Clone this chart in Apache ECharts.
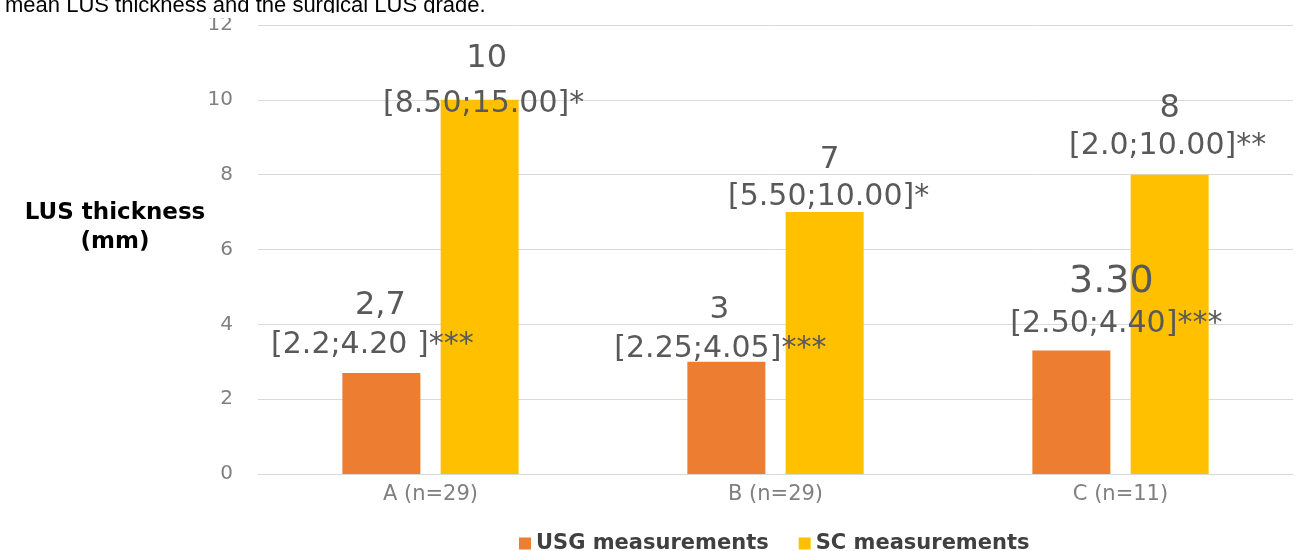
<!DOCTYPE html>
<html>
<head>
<meta charset="utf-8">
<script src="https://cdn.jsdelivr.net/npm/echarts@6/dist/echarts.min.js"></script>
<style>
html,body{margin:0;padding:0;background:#fff;}
#chart{width:1309px;height:551px;}
</style>
</head>
<body>
<div id="chart"></div>
<script>
// ---- data ----
const categories = ['A (n=29)', 'B (n=29)', 'C (n=11)'];
const usgValues = [2.7, 3, 3.3];
const scValues = [10, 7, 8];
const usgValueLabels = ['2,7', '3', '3.30'];
const usgRangeLabels = ['[2.2;4.20 ]***', '[2.25;4.05]***', '[2.50;4.40]***'];
const scValueLabels = ['10', '7', '8'];
const scRangeLabels = ['[8.50;15.00]*', '[5.50;10.00]*', '[2.0;10.00]**'];
const seriesNames = ['USG measurements', 'SC measurements'];

// ---- label placement (styling only) ----
const usgLabelLayout = [
  {dx: -9, dy: -10, g: 42, s: 8, vs: 32},
  {dx: -6, dy: 5, g: 42, s: -1, vs: 31},
  {dx: 45, dy: -8, g: 48, s: -5, vs: 38}
];
const scLabelLayout = [
  {dx: 4, dy: 22, g: 54, s: 3, vs: 32},
  {dx: 4, dy: 3, g: 38, s: 1, vs: 31},
  {dx: -2, dy: -10, g: 40, s: 2, vs: 32}
];

const LABEL_COLOR = '#595959';
const FONT = 'DejaVu Sans';

function buildData(values, vLabels, rLabels, layout) {
  return values.map((v, i) => {
    const L = layout[i];
    const pad = L.s >= 0 ? [0, 0, 0, 2 * L.s] : [0, -2 * L.s, 0, 0];
    return {
      value: v,
      label: {
        show: true,
        position: 'top',
        distance: 0,
        offset: [L.dx, L.dy],
        formatter: '{v|' + vLabels[i] + '}\n{b|' + rLabels[i] + '}',
        rich: {
          v: {fontFamily: FONT, fontSize: L.vs, color: LABEL_COLOR, lineHeight: L.g, align: 'center', padding: pad},
          b: {fontFamily: FONT, fontSize: 30, color: LABEL_COLOR, lineHeight: 36, align: 'center'}
        }
      }
    };
  });
}

const chart = echarts.init(document.getElementById('chart'), null, {renderer: 'canvas'});
chart.setOption({
  backgroundColor: '#ffffff',
  animation: false,
  grid: {left: 258, right: 16, top: 25, bottom: 77, containLabel: false},
  xAxis: {
    type: 'category',
    data: categories,
    axisLine: {show: true, lineStyle: {color: '#d9d9d9', width: 1}},
    axisTick: {show: false},
    axisLabel: {fontFamily: FONT, fontSize: 21, color: '#808080', margin: 10}
  },
  yAxis: {
    type: 'value',
    min: 0, max: 12, interval: 2,
    axisLine: {show: false},
    axisTick: {show: false},
    splitLine: {lineStyle: {color: '#d9d9d9', width: 1}},
    axisLabel: {fontFamily: FONT, fontSize: 20, color: '#808080', margin: 25}
  },
  legend: {
    data: seriesNames,
    left: 514,
    top: 528,
    itemWidth: 12,
    itemHeight: 12,
    itemGap: 30,
    icon: 'rect',
    textStyle: {fontFamily: FONT, fontSize: 21, fontWeight: 'bold', color: '#404040'}
  },
  series: [
    {
      name: seriesNames[0],
      type: 'bar',
      barWidth: 78,
      barGap: '26%',
      itemStyle: {color: '#ED7D31'},
      data: buildData(usgValues, usgValueLabels, usgRangeLabels, usgLabelLayout)
    },
    {
      name: seriesNames[1],
      type: 'bar',
      barWidth: 78,
      barGap: '26%',
      itemStyle: {color: '#FFC000'},
      data: buildData(scValues, scValueLabels, scRangeLabels, scLabelLayout)
    }
  ],
  graphic: [
    {
      type: 'text', left: 5, top: -5, z: 10,
      style: {text: 'mean LUS thickness and the surgical LUS grade.', font: '22px "Liberation Sans", Arial, sans-serif', fill: '#000'}
    },
    {
      type: 'rect', z: 11, shape: {x: 0, y: 13, width: 700, height: 5}, style: {fill: '#fff'}
    },
    {
      type: 'text', x: 115, y: 228, z: 10,
      style: {
        text: 'LUS thickness\n(mm)',
        font: 'bold 23px "DejaVu Sans", sans-serif',
        fill: '#000', align: 'center', verticalAlign: 'middle', lineHeight: 29
      }
    }
  ]
});
</script>
</body>
</html>
